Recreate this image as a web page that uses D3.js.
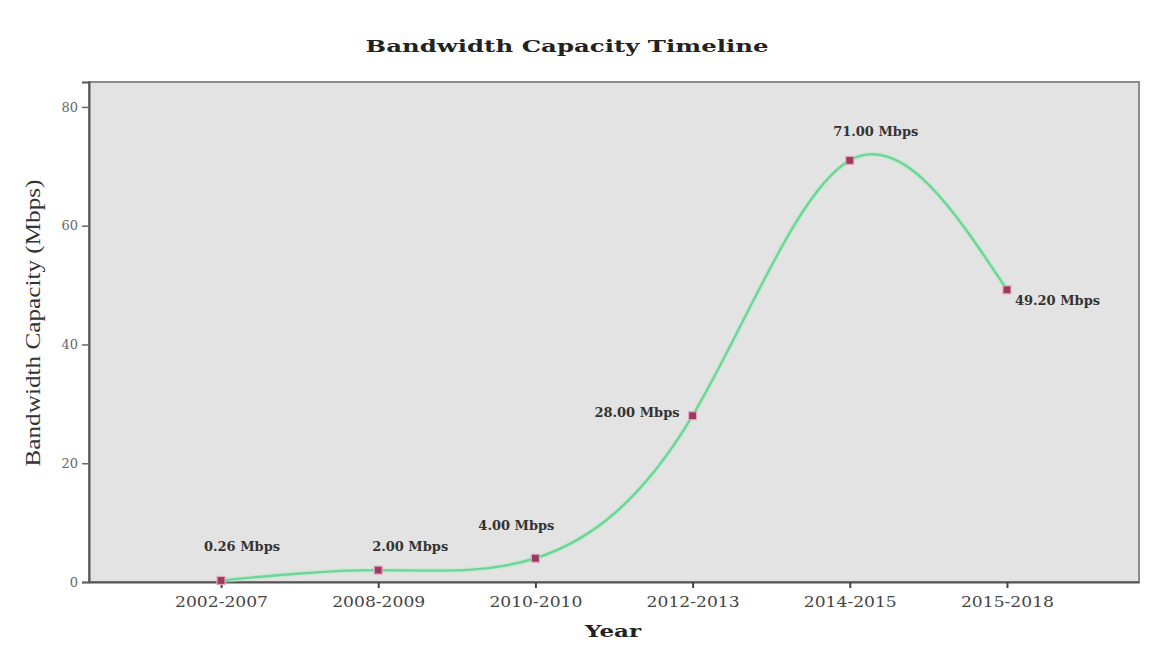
<!DOCTYPE html>
<html>
<head>
<meta charset="utf-8">
<script src="https://cdn.jsdelivr.net/npm/d3@7"></script>
<style>
  html, body { margin: 0; padding: 0; background: #ffffff; }
  svg { display: block; }
  text { font-family: "DejaVu Serif", "Liberation Serif", serif; }
</style>
</head>
<body>
<svg id="chart" width="1153" height="649"></svg>
<script>
// Bandwidth capacity per period (Mbps)
const periods = ["2002-2007", "2008-2009", "2010-2010", "2012-2013", "2014-2015", "2015-2018"];
const capacity = [0.26, 2.00, 4.00, 28.00, 71.00, 49.20];
const valueLabels = ["0.26 Mbps", "2.00 Mbps", "4.00 Mbps", "28.00 Mbps", "71.00 Mbps", "49.20 Mbps"];
const yTicks = [0, 20, 40, 60, 80];

const W = 1153, H = 649;
const margin = { top: 82, right: 14, bottom: 67, left: 89 };
const plotW = W - margin.left - margin.right;
const plotH = H - margin.top - margin.bottom;

const svg = d3.select("#chart");

const x = d3.scalePoint()
  .domain(periods)
  .range([0, plotW])
  .padding(0.84);

const y = d3.scaleLinear()
  .domain([0, 84.2])
  .range([plotH, 0]);

const g = svg.append("g").attr("transform", `translate(${margin.left},${margin.top})`);

// plot background and frame
g.append("rect")
  .attr("x", 0).attr("y", 0)
  .attr("width", plotW).attr("height", plotH)
  .attr("fill", "#e3e3e3")
  .attr("stroke", "#8c8c8c")
  .attr("stroke-width", 2);

// axes
const yAxis = g.append("g")
  .call(d3.axisLeft(y).tickValues(yTicks).tickSize(7).tickPadding(4));
yAxis.select(".domain").attr("stroke", "#555").attr("stroke-width", 2);
yAxis.selectAll(".tick line").attr("stroke", "#666").attr("stroke-width", 1.5);
yAxis.selectAll(".tick text")
  .attr("fill", "#666")
  .style("font-size", "13px")
  .style("font-family", "'DejaVu Serif', serif");

const xAxis = g.append("g")
  .attr("transform", `translate(0,${plotH})`)
  .call(d3.axisBottom(x).tickSize(6).tickPadding(9).tickSizeOuter(0));
xAxis.select(".domain").attr("stroke", "#555").attr("stroke-width", 2);
xAxis.selectAll(".tick line").attr("stroke", "#444").attr("stroke-width", 2);
xAxis.selectAll(".tick text")
  .attr("fill", "#444")
  .style("font-size", "14px")
  .style("font-family", "'DejaVu Serif', serif")
  .attr("textLength", 93)
  .attr("lengthAdjust", "spacingAndGlyphs");

// smooth trend line (natural cubic spline through every point)
const pts = periods.map((p, i) => ({ p, v: capacity[i], label: valueLabels[i] }));

const line = d3.line()
  .x(d => x(d.p))
  .y(d => y(d.v))
  .curve(d3.curveNatural);

g.append("path")
  .datum(pts)
  .attr("d", line)
  .attr("fill", "none")
  .attr("stroke", "#b8ecc8")
  .attr("stroke-width", 5)
  .attr("opacity", 0.6);

g.append("path")
  .datum(pts)
  .attr("d", line)
  .attr("fill", "none")
  .attr("stroke", "#6fd497")
  .attr("stroke-width", 2.4);

// point markers
g.selectAll("rect.marker")
  .data(pts)
  .join("rect")
  .attr("class", "marker")
  .attr("x", d => x(d.p) - 4)
  .attr("y", d => y(d.v) - 4)
  .attr("width", 8)
  .attr("height", 8)
  .attr("fill", "#9a3a60")
  .attr("stroke", "#e6a6bd")
  .attr("stroke-width", 1.2);

// value labels, offset per point to sit clear of the line
const labelOffsets = [
  { dx: 21, dy: -29, anchor: "middle" },
  { dx: 32, dy: -19, anchor: "middle" },
  { dx: -19, dy: -28, anchor: "middle" },
  { dx: -13, dy: 1, anchor: "end" },
  { dx: 26, dy: -24, anchor: "middle" },
  { dx: 8, dy: 15, anchor: "start" }
];

g.selectAll("text.vlabel")
  .data(pts)
  .join("text")
  .attr("class", "vlabel")
  .attr("x", (d, i) => x(d.p) + labelOffsets[i].dx)
  .attr("y", (d, i) => y(d.v) + labelOffsets[i].dy)
  .attr("text-anchor", (d, i) => labelOffsets[i].anchor)
  .attr("fill", "#333")
  .style("font-size", "13px")
  .style("font-weight", "bold")
  .text(d => d.label);

// titles
svg.append("text")
  .attr("x", 567)
  .attr("y", 52)
  .attr("text-anchor", "middle")
  .attr("fill", "#222")
  .style("font-size", "17px")
  .style("font-weight", "bold")
  .attr("textLength", 403)
  .attr("lengthAdjust", "spacingAndGlyphs")
  .text("Bandwidth Capacity Timeline");

svg.append("text")
  .attr("x", 613)
  .attr("y", 637)
  .attr("text-anchor", "middle")
  .attr("fill", "#222")
  .style("font-size", "17px")
  .style("font-weight", "bold")
  .attr("textLength", 56)
  .attr("lengthAdjust", "spacingAndGlyphs")
  .text("Year");

svg.append("text")
  .attr("transform", "translate(40,323) rotate(-90)")
  .attr("text-anchor", "middle")
  .attr("fill", "#333")
  .style("font-size", "20px")
  .style("font-family", "'Liberation Serif', serif")
  .attr("textLength", 287)
  .attr("lengthAdjust", "spacingAndGlyphs")
  .text("Bandwidth Capacity (Mbps)");
</script>
</body>
</html>
